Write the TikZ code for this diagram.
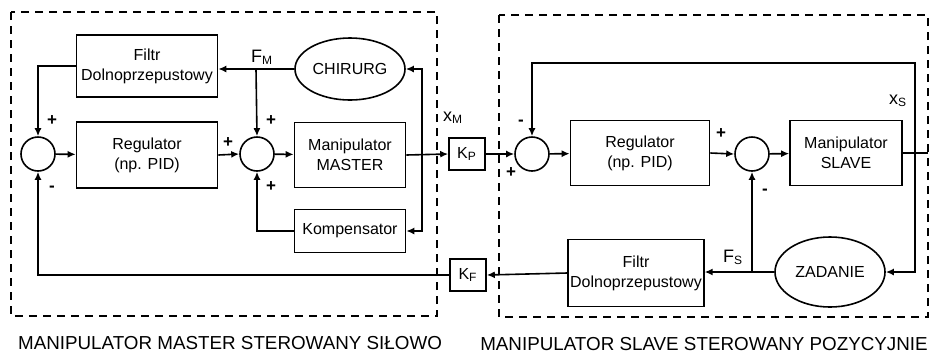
\documentclass[tikz,border=0pt]{standalone}
\usepackage{fontspec}
\setmainfont{Liberation Sans}
\usetikzlibrary{arrows.meta,shapes.geometric}

\begin{document}
\begin{tikzpicture}[x=0.5pt,y=-0.5pt,>={Latex[length=4pt,width=3.5pt]},line width=0.8pt,
  blk/.style={draw,rectangle,inner sep=1pt,align=center,font=\fontsize{8}{10}\selectfont},
  oval/.style={draw,ellipse,inner sep=0pt,font=\fontsize{8}{10}\selectfont},
  sumnode/.style={draw,circle,minimum size=17pt,inner sep=0pt},
  sgn/.style={font=\bfseries\fontsize{8.5}{8.5}\selectfont,inner sep=0pt},
  lbl/.style={font=\fontsize{9}{9}\selectfont,inner sep=0pt},
  frame/.style={dash pattern=on 4pt off 3pt,line width=0.6pt},
  podpis/.style={font=\fontsize{9.4}{11}\selectfont,inner sep=0pt}]
\useasboundingbox (0,0) rectangle (932,355);

% ramki
\draw[frame] (11,12) rectangle (437,316);
\draw[frame] (499,15) rectangle (928,317);

% master
\node[blk,minimum width=70.5pt,minimum height=31pt] (filtrM) at (147,66) {Filtr\\Dolnoprzepustowy};
\node[oval,minimum width=55pt,minimum height=31pt] (chirurg) at (350,69) {CHIRURG};
\node[sumnode] (sumA) at (38,154) {};
\node[blk,minimum width=70.5pt,minimum height=33pt] (regM) at (147,155) {Regulator\\(np. PID)};
\node[sumnode] (sumB) at (257,154) {};
\node[blk,minimum width=55.5pt,minimum height=32.5pt] (master) at (350,155) {Manipulator\\MASTER};
\node[blk,minimum width=55.5pt,minimum height=21.5pt] (komp) at (350,231) {Kompensator};
\node[blk,minimum width=18pt,minimum height=16pt] (kp) at (467,154) {K\textsubscript{P}};
\node[blk,minimum width=18pt,minimum height=16pt] (kf) at (468,275) {K\textsubscript{F}};

% slave
\node[sumnode] (sumC) at (532,154) {};
\node[blk,minimum width=69.5pt,minimum height=32.5pt] (regS) at (640,153) {Regulator\\(np. PID)};
\node[sumnode] (sumD) at (752,154) {};
\node[blk,minimum width=56pt,minimum height=32.5pt] (slave) at (846,153) {Manipulator\\SLAVE};
\node[oval,minimum width=55pt,minimum height=35pt] (zadanie) at (830,272) {ZADANIE};
\node[blk,minimum width=67pt,minimum height=33.5pt] (filtrS) at (636,273) {Filtr\\Dolnoprzepustowy};

\coordinate (jM) at (256,69);
\coordinate (jX) at (422,155);
\coordinate (jS) at (915,153);
\coordinate (topS) at (915,63);
\coordinate (oS) at (928,153);
\coordinate (jZ) at (752,272);

% polaczenia master
\draw[->] (chirurg.west) -- (filtrM.east |- chirurg.west);
\draw[->] (jM) -- (sumB.north);
\draw[->] (filtrM.west) -| (sumA.north);
\draw[->] (sumA) -- (regM);
\draw[->] (regM.east) -- (sumB.west);
\draw[->] (sumB) -- (master);
\draw[->] (master.east) -- (kp.west);
\draw[->] (jX) |- (chirurg.east);
\draw[->] (jX) |- (komp.east);
\draw[->] (komp.west) -| (sumB.south);
\draw[->] (kf.west) -| (sumA.south);

% polaczenia slave
\draw[->] (kp.east) -- (sumC.west);
\draw[->] (sumC) -- (regS);
\draw[->] (regS.east) -- (sumD.west);
\draw[->] (sumD) -- (slave);
\draw (slave.east) -- (oS);
\draw[->] (jS) -- (topS) -| (sumC.north);
\draw[->] (jS) |- (zadanie.east);
\draw[->] (zadanie.west) -- (filtrS.east |- zadanie.west);
\draw[->] (jZ) -- (sumD.south);
\draw[->] (filtrS.west) -- (kf.east);

% etykiety
\node[lbl] (fm) at (262,57) {F\textsubscript{M}};
\node[lbl] (xm) at (453,118) {x\textsubscript{M}};
\node[lbl] (xs) at (898,101) {x\textsubscript{S}};
\node[lbl] (fs) at (733,257) {F\textsubscript{S}};

% znaki
\node[sgn] (sA1) at (52,121) {+};
\node[sgn] (sA2) at (52,189) {-};
\node[sgn] (sB1) at (228,143) {+};
\node[sgn] (sB2) at (271,121) {+};
\node[sgn] (sB3) at (271,187) {+};
\node[sgn] (sC1) at (521,123) {-};
\node[sgn] (sC2) at (511,173) {+};
\node[sgn] (sD1) at (721,134) {+};
\node[sgn] (sD2) at (765,192) {-};

\node[podpis] (capM) at (230,343) {MANIPULATOR MASTER STEROWANY SIŁOWO};
\node[podpis] (capS) at (704,344) {MANIPULATOR SLAVE STEROWANY POZYCYJNIE};
\end{tikzpicture}
\end{document}
